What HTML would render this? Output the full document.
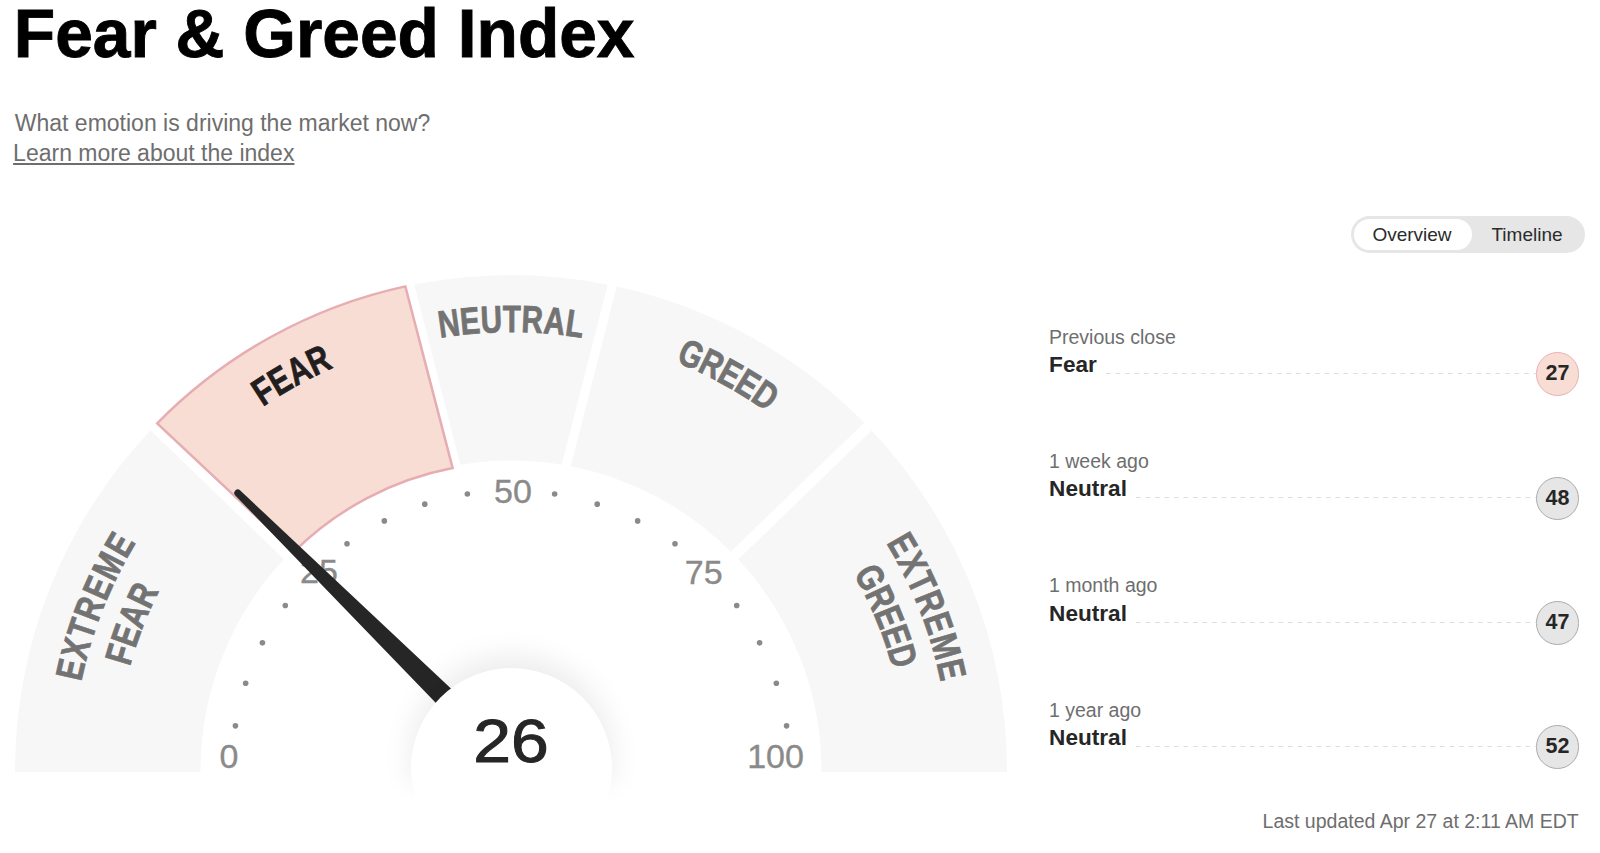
<!DOCTYPE html><html><head><meta charset="utf-8"><title>Fear &amp; Greed Index</title><style>
html,body{margin:0;padding:0;background:#fff;}body{width:1600px;height:853px;position:relative;overflow:hidden;font-family:"Liberation Sans",sans-serif;}
</style></head><body>
<div style="position:absolute;left:13.83px;top:0.29px;font-size:67.70px;line-height:67.70px;color:#000;font-weight:bold;white-space:nowrap;-webkit-text-stroke:0.9px #000;">Fear &amp; Greed Index</div>
<div style="position:absolute;left:14.81px;top:111.53px;font-size:23.00px;line-height:23.00px;color:#6e6e6e;font-weight:normal;white-space:nowrap;">What emotion is driving the market now?</div>
<div style="position:absolute;left:13.11px;top:141.53px;font-size:23.00px;line-height:23.00px;color:#6e6e6e;font-weight:normal;white-space:nowrap;text-decoration:underline;text-underline-offset:1.5px;text-decoration-thickness:1.5px;">Learn more about the index</div>
<div style="position:absolute;left:1351px;top:216px;width:234px;height:37px;border-radius:19px;background:#e6e6e6;"></div>
<div style="position:absolute;left:1354px;top:219px;width:118px;height:31px;border-radius:16px;background:#fff;"></div>
<div style="position:absolute;left:1372.41px;top:224.82px;font-size:19.00px;line-height:19.00px;color:#2b2b2b;font-weight:normal;white-space:nowrap;">Overview</div>
<div style="position:absolute;left:1491.48px;top:224.82px;font-size:19.00px;line-height:19.00px;color:#2b2b2b;font-weight:normal;white-space:nowrap;">Timeline</div>
<svg width="1600" height="853" viewBox="0 0 1600 853" style="position:absolute;left:0;top:0"><path d="M15.00 772 L15.00 771.00 A496.0 496.0 0 0 1 150.62 430.20 L283.91 559.24 A310.5 310.5 0 0 0 200.50 772 Z" fill="#f7f7f7"/><path d="M414.24 284.53 A496.0 496.0 0 0 1 607.76 284.53 L561.71 464.67 A310.5 310.5 0 0 0 460.29 464.67 Z" fill="#f7f7f7"/><path d="M616.66 286.39 A496.0 496.0 0 0 1 864.16 422.73 L730.75 551.64 A310.5 310.5 0 0 0 570.78 466.31 Z" fill="#f7f7f7"/><path d="M871.68 430.52 A496.0 496.0 0 0 1 1007.00 771.00 L1007.00 772 L821.50 772 L821.50 771.00 A310.5 310.5 0 0 0 738.20 559.36 Z" fill="#f7f7f7"/><path d="M157.23 423.35 A496.0 496.0 0 0 1 405.34 286.39 L452.66 468.07 A308.5 308.5 0 0 0 294.00 551.72 Z" fill="#f8ddd4" stroke="#e6adb2" stroke-width="2.5" stroke-linejoin="miter"/><g font-family="Liberation Sans, sans-serif" font-weight="bold"><g fill="#737373" stroke="#737373" stroke-width="0.80" font-size="38.0"><text transform="translate(450.50 336.19) rotate(-7.92) scale(0.780 1)" text-anchor="middle">N</text><text transform="translate(471.14 333.81) rotate(-5.21) scale(0.780 1)" text-anchor="middle">E</text><text transform="translate(491.88 332.42) rotate(-2.50) scale(0.780 1)" text-anchor="middle">U</text><text transform="translate(511.83 332.00) rotate(0.11) scale(0.780 1)" text-anchor="middle">T</text><text transform="translate(531.78 332.49) rotate(2.71) scale(0.780 1)" text-anchor="middle">R</text><text transform="translate(553.33 334.05) rotate(5.53) scale(0.780 1)" text-anchor="middle">A</text><text transform="translate(573.14 336.42) rotate(8.14) scale(0.780 1)" text-anchor="middle">L</text></g><g fill="#221e1f" stroke="#221e1f" stroke-width="0.80" font-size="38.0"><text transform="translate(270.24 401.76) rotate(-33.11) scale(0.780 1)" text-anchor="middle">F</text><text transform="translate(286.49 391.66) rotate(-30.62) scale(0.780 1)" text-anchor="middle">E</text><text transform="translate(304.62 381.50) rotate(-27.92) scale(0.780 1)" text-anchor="middle">A</text><text transform="translate(323.95 371.85) rotate(-25.11) scale(0.780 1)" text-anchor="middle">R</text></g><g fill="#737373" stroke="#737373" stroke-width="0.80" font-size="38.0"><text transform="translate(685.98 366.20) rotate(23.38) scale(0.780 1)" text-anchor="middle">G</text><text transform="translate(706.06 375.48) rotate(26.25) scale(0.780 1)" text-anchor="middle">R</text><text transform="translate(724.22 384.97) rotate(28.91) scale(0.780 1)" text-anchor="middle">E</text><text transform="translate(741.22 394.86) rotate(31.47) scale(0.780 1)" text-anchor="middle">E</text><text transform="translate(758.44 405.96) rotate(34.13) scale(0.780 1)" text-anchor="middle">D</text></g><g fill="#737373" stroke="#737373" stroke-width="0.80" font-size="38.0"><text transform="translate(83.20 672.47) rotate(-77.03) scale(0.780 1)" text-anchor="middle">E</text><text transform="translate(88.39 652.15) rotate(-74.29) scale(0.780 1)" text-anchor="middle">X</text><text transform="translate(94.29 632.90) rotate(-71.66) scale(0.780 1)" text-anchor="middle">T</text><text transform="translate(101.35 613.17) rotate(-68.93) scale(0.780 1)" text-anchor="middle">R</text><text transform="translate(109.69 593.05) rotate(-66.09) scale(0.780 1)" text-anchor="middle">E</text><text transform="translate(119.75 571.89) rotate(-63.03) scale(0.780 1)" text-anchor="middle">M</text><text transform="translate(130.93 551.30) rotate(-59.97) scale(0.780 1)" text-anchor="middle">E</text></g><g fill="#737373" stroke="#737373" stroke-width="0.80" font-size="38.0"><text transform="translate(132.31 657.96) rotate(-73.38) scale(0.780 1)" text-anchor="middle">F</text><text transform="translate(138.23 639.76) rotate(-70.61) scale(0.780 1)" text-anchor="middle">E</text><text transform="translate(145.64 620.35) rotate(-67.59) scale(0.780 1)" text-anchor="middle">A</text><text transform="translate(154.42 600.61) rotate(-64.46) scale(0.780 1)" text-anchor="middle">R</text></g><g fill="#737373" stroke="#737373" stroke-width="0.80" font-size="38.0"><text transform="translate(891.07 551.30) rotate(59.97) scale(0.780 1)" text-anchor="middle">E</text><text transform="translate(901.13 569.70) rotate(62.71) scale(0.780 1)" text-anchor="middle">X</text><text transform="translate(909.95 587.80) rotate(65.34) scale(0.780 1)" text-anchor="middle">T</text><text transform="translate(918.24 607.05) rotate(68.07) scale(0.780 1)" text-anchor="middle">R</text><text transform="translate(925.87 627.45) rotate(70.91) scale(0.780 1)" text-anchor="middle">E</text><text transform="translate(932.93 649.79) rotate(73.97) scale(0.780 1)" text-anchor="middle">M</text><text transform="translate(938.80 672.47) rotate(77.03) scale(0.780 1)" text-anchor="middle">E</text></g><g fill="#737373" stroke="#737373" stroke-width="0.80" font-size="38.0"><text transform="translate(859.02 583.75) rotate(61.72) scale(0.780 1)" text-anchor="middle">G</text><text transform="translate(868.87 603.34) rotate(64.90) scale(0.780 1)" text-anchor="middle">R</text><text transform="translate(877.00 621.92) rotate(67.84) scale(0.780 1)" text-anchor="middle">E</text><text transform="translate(883.90 640.13) rotate(70.66) scale(0.780 1)" text-anchor="middle">E</text><text transform="translate(890.13 659.43) rotate(73.60) scale(0.780 1)" text-anchor="middle">D</text></g></g><circle cx="235.43" cy="725.85" r="2.8" fill="#8a8a8a"/><circle cx="245.66" cy="683.28" r="2.8" fill="#8a8a8a"/><circle cx="262.41" cy="642.84" r="2.8" fill="#8a8a8a"/><circle cx="285.28" cy="605.51" r="2.8" fill="#8a8a8a"/><circle cx="347.01" cy="543.78" r="2.8" fill="#8a8a8a"/><circle cx="384.34" cy="520.91" r="2.8" fill="#8a8a8a"/><circle cx="424.78" cy="504.16" r="2.8" fill="#8a8a8a"/><circle cx="467.35" cy="493.93" r="2.8" fill="#8a8a8a"/><circle cx="554.65" cy="493.93" r="2.8" fill="#8a8a8a"/><circle cx="597.22" cy="504.16" r="2.8" fill="#8a8a8a"/><circle cx="637.66" cy="520.91" r="2.8" fill="#8a8a8a"/><circle cx="674.99" cy="543.78" r="2.8" fill="#8a8a8a"/><circle cx="736.72" cy="605.51" r="2.8" fill="#8a8a8a"/><circle cx="759.59" cy="642.84" r="2.8" fill="#8a8a8a"/><circle cx="776.34" cy="683.28" r="2.8" fill="#8a8a8a"/><circle cx="786.57" cy="725.85" r="2.8" fill="#8a8a8a"/><g font-family="Liberation Sans, sans-serif" font-size="34.0" fill="#8a8a8a" stroke="#8a8a8a" stroke-width="0.35" text-anchor="middle"><text x="229.00" y="768.34">0</text><text x="319.00" y="583.14">25</text><text x="513.00" y="502.64">50</text><text x="703.70" y="583.94">75</text><text x="775.50" y="768.24">100</text></g><path d="M235.34 495.49 A3.50 3.50 0 0 1 240.26 490.51 L517.23 750.83 L499.51 768.80 Z" fill="#262626"/></svg>
<div style="position:absolute;left:410.8px;top:668.0px;width:201px;height:201px;border-radius:50%;background:#fff;box-shadow:0 -12px 30px rgba(0,0,0,0.08);"></div>
<div style="position:absolute;left:411px;top:710.42px;width:200px;text-align:center;font-size:62.0px;line-height:62.0px;color:#262626;transform:scaleX(1.095);-webkit-text-stroke:1px #262626;">26</div>
<div style="position:absolute;left:0;top:772px;width:1020px;height:81px;background:linear-gradient(to bottom,rgba(255,255,255,0) 0,#fff 30px);"></div>
<div style="position:absolute;left:1049.00px;top:327.89px;font-size:19.50px;line-height:19.50px;color:#6e6e6e;font-weight:normal;white-space:nowrap;">Previous close</div>
<div style="position:absolute;left:1049.11px;top:353.97px;font-size:22.60px;line-height:22.60px;color:#262626;font-weight:bold;white-space:nowrap;">Fear</div>
<div style="position:absolute;left:1105.8px;top:373.1px;width:430.2px;height:1px;background-image:linear-gradient(to right,#dedede 0,#dedede 5px,transparent 5px);background-size:9.5px 1px;"></div>
<div style="position:absolute;left:1535.8px;top:352.4px;width:43.5px;height:43.5px;box-sizing:border-box;border-radius:50%;background:#f8ddd4;border:1.8px solid #ebafb3;text-align:center;font-weight:bold;font-size:21.5px;line-height:40.3px;color:#262626;">27</div>
<div style="position:absolute;left:1049.00px;top:452.19px;font-size:19.50px;line-height:19.50px;color:#6e6e6e;font-weight:normal;white-space:nowrap;">1 week ago</div>
<div style="position:absolute;left:1049.11px;top:478.27px;font-size:22.60px;line-height:22.60px;color:#262626;font-weight:bold;white-space:nowrap;">Neutral</div>
<div style="position:absolute;left:1136.0px;top:497.4px;width:400.0px;height:1px;background-image:linear-gradient(to right,#dedede 0,#dedede 5px,transparent 5px);background-size:9.5px 1px;"></div>
<div style="position:absolute;left:1535.8px;top:476.8px;width:43.5px;height:43.5px;box-sizing:border-box;border-radius:50%;background:#e6e6e6;border:1.8px solid #ababab;text-align:center;font-weight:bold;font-size:21.5px;line-height:40.3px;color:#262626;">48</div>
<div style="position:absolute;left:1049.00px;top:576.49px;font-size:19.50px;line-height:19.50px;color:#6e6e6e;font-weight:normal;white-space:nowrap;">1 month ago</div>
<div style="position:absolute;left:1049.11px;top:602.57px;font-size:22.60px;line-height:22.60px;color:#262626;font-weight:bold;white-space:nowrap;">Neutral</div>
<div style="position:absolute;left:1136.0px;top:621.7px;width:400.0px;height:1px;background-image:linear-gradient(to right,#dedede 0,#dedede 5px,transparent 5px);background-size:9.5px 1px;"></div>
<div style="position:absolute;left:1535.8px;top:601.0px;width:43.5px;height:43.5px;box-sizing:border-box;border-radius:50%;background:#e6e6e6;border:1.8px solid #ababab;text-align:center;font-weight:bold;font-size:21.5px;line-height:40.3px;color:#262626;">47</div>
<div style="position:absolute;left:1049.00px;top:700.79px;font-size:19.50px;line-height:19.50px;color:#6e6e6e;font-weight:normal;white-space:nowrap;">1 year ago</div>
<div style="position:absolute;left:1049.11px;top:726.87px;font-size:22.60px;line-height:22.60px;color:#262626;font-weight:bold;white-space:nowrap;">Neutral</div>
<div style="position:absolute;left:1136.0px;top:746.0px;width:400.0px;height:1px;background-image:linear-gradient(to right,#dedede 0,#dedede 5px,transparent 5px);background-size:9.5px 1px;"></div>
<div style="position:absolute;left:1535.8px;top:725.3px;width:43.5px;height:43.5px;box-sizing:border-box;border-radius:50%;background:#e6e6e6;border:1.8px solid #ababab;text-align:center;font-weight:bold;font-size:21.5px;line-height:40.3px;color:#262626;">52</div>
<div style="position:absolute;left:1262.60px;top:812.39px;font-size:19.50px;line-height:19.50px;color:#6e6e6e;font-weight:normal;white-space:nowrap;">Last updated Apr 27 at 2:11 AM EDT</div>
</body></html>
